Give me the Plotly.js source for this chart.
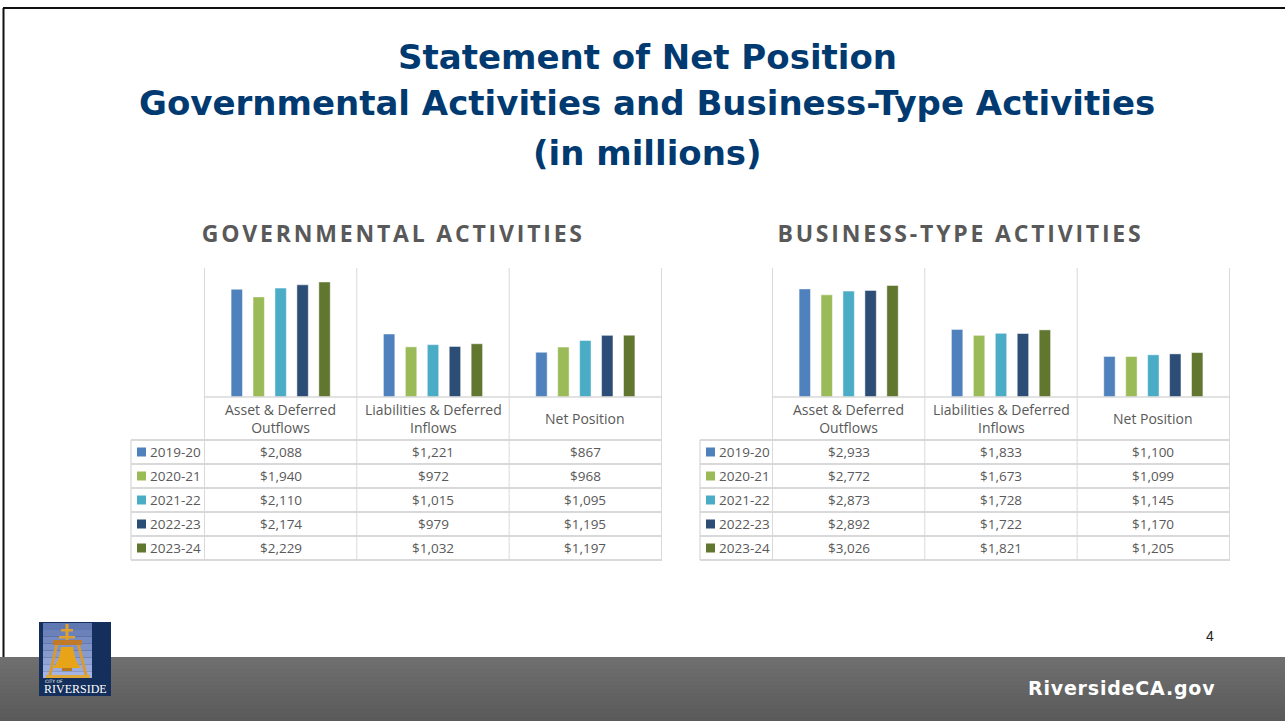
<!DOCTYPE html>
<html>
<head>
<meta charset="utf-8">
<script src="https://cdn.plot.ly/plotly-3.0.1.min.js"></script>
<style>
html,body{margin:0;padding:0;background:#fff;}
#chart{width:1285px;height:721px;}
</style>
</head>
<body>
<div id="chart"></div>
<script>
// ---------- DATA ----------
const categories = ["Asset & Deferred Outflows", "Liabilities & Deferred Inflows", "Net Position"];
const categoryLabels = ["Asset & Deferred<br>Outflows", "Liabilities & Deferred<br>Inflows", "Net Position"];
const years = ["2019-20", "2020-21", "2021-22", "2022-23", "2023-24"];
const yearColors = ["#4f81bd", "#9bbb59", "#4bacc6", "#2c4d75", "#61762f"];

const gov2019 = [2088, 1221, 867];
const gov2020 = [1940, 972, 968];
const gov2021 = [2110, 1015, 1095];
const gov2022 = [2174, 979, 1195];
const gov2023 = [2229, 1032, 1197];

const bus2019 = [2933, 1833, 1100];
const bus2020 = [2772, 1673, 1099];
const bus2021 = [2873, 1728, 1145];
const bus2022 = [2892, 1722, 1170];
const bus2023 = [3026, 1821, 1205];

const govSeries = [gov2019, gov2020, gov2021, gov2022, gov2023];
const busSeries = [bus2019, bus2020, bus2021, bus2022, bus2023];

const mainTitle = ["Statement of Net Position", "Governmental Activities and Business-Type Activities", "(in millions)"];
const panelTitles = ["GOVERNMENTAL ACTIVITIES", "BUSINESS-TYPE ACTIVITIES"];
const footerText = "RiversideCA.gov";

// ---------- LAYOUT HELPERS ----------
const W = 1285, H = 721;
const px = x => x / W;
const py = y => 1 - y / H;
const fmt = v => "$" + v.toLocaleString("en-US");
const gridColor = "#d9d9d9";
const textGray = "#595959";

const panels = [
  {series: govSeries, xa: "x", ya: "y", left: 204, right: 662, legendLeft: 131, range: [0, 2500], title: panelTitles[0], titleX: 393},
  {series: busSeries, xa: "x2", ya: "y2", left: 772, right: 1230, legendLeft: 700, range: [0, 3500], title: panelTitles[1], titleX: 960}
];
const plotTop = 268, plotBottom = 397, headerBottom = 440, rowH = 24;
const tableBottom = headerBottom + rowH * years.length;

const traces = [];
const shapes = [];
const annotations = [];

panels.forEach((p, pi) => {
  p.series.forEach((vals, si) => {
    traces.push({
      type: "bar", x: categories, y: vals, name: years[si],
      xaxis: p.xa, yaxis: p.ya,
      marker: {color: yearColors[si], line: {color: "rgba(255,255,255,0.6)", width: 0.8}},
      hoverinfo: "x+y+name", showlegend: false
    });
  });
  const xr = p.xa;
  for (let b = 0; b <= categories.length; b++) {
    shapes.push({type: "line", xref: xr, yref: "paper", x0: b - 0.5, x1: b - 0.5,
      y0: py(plotTop), y1: py(tableBottom), line: {color: gridColor, width: 1}});
  }
  shapes.push({type: "line", xref: "paper", yref: "paper", x0: px(p.left), x1: px(p.right),
    y0: py(plotBottom), y1: py(plotBottom), line: {color: gridColor, width: 1.3}});
  for (let r = 0; r <= years.length; r++) {
    const y = headerBottom + r * rowH;
    shapes.push({type: "line", xref: "paper", yref: "paper", x0: px(p.legendLeft), x1: px(p.right),
      y0: py(y), y1: py(y), line: {color: gridColor, width: 1.8}});
  }
  shapes.push({type: "line", xref: "paper", yref: "paper", x0: px(p.legendLeft), x1: px(p.legendLeft),
    y0: py(headerBottom), y1: py(tableBottom), line: {color: gridColor, width: 1.3}});
  categories.forEach((c, ci) => {
    annotations.push({xref: xr, yref: "paper", x: c, y: py((plotBottom + headerBottom) / 2),
      text: categoryLabels[ci], showarrow: false, xanchor: "center", yanchor: "middle",
      font: {family: "Open Sans", size: 14, color: textGray}});
  });
  years.forEach((yr, si) => {
    const yc = headerBottom + si * rowH + rowH / 2;
    shapes.push({type: "rect", xref: "paper", yref: "paper",
      x0: px(p.legendLeft + 6), x1: px(p.legendLeft + 15), y0: py(yc - 4.5), y1: py(yc + 4.5),
      fillcolor: yearColors[si], line: {width: 0}});
    annotations.push({xref: "paper", yref: "paper", x: px(p.legendLeft + 17), y: py(yc),
      text: yr, showarrow: false, xanchor: "left", yanchor: "middle",
      font: {family: "Open Sans", size: 13.5, color: textGray}});
    categories.forEach((c, ci) => {
      annotations.push({xref: xr, yref: "paper", x: c, y: py(yc),
        text: fmt(p.series[si][ci]), showarrow: false, xanchor: "center", yanchor: "middle",
        font: {family: "Open Sans", size: 13.5, color: textGray}});
    });
  });
  annotations.push({xref: "paper", yref: "paper", x: px(p.titleX), y: py(233),
    text: "<b>" + p.title + "</b>", showarrow: false, xanchor: "center", yanchor: "middle",
    font: {family: "Open Sans", size: 23, color: textGray}});
});

// main title
const titleYs = [57, 103, 153];
mainTitle.forEach((t, i) => {
  annotations.push({xref: "paper", yref: "paper", x: px(647), y: py(titleYs[i]),
    text: "<b>" + t + "</b>", showarrow: false, xanchor: "center", yanchor: "middle",
    font: {family: "DejaVu Sans", size: 34, color: "#003a70"}});
});

// slide border (top + left)
shapes.push({type: "line", xref: "paper", yref: "paper", x0: px(3), x1: 1, y0: py(8), y1: py(8), line: {color: "#111", width: 2}});
shapes.push({type: "line", xref: "paper", yref: "paper", x0: px(3.5), x1: px(3.5), y0: py(8), y1: py(657), line: {color: "#111", width: 2}});

// footer band (stacked strips to approximate gradient)
const bandTop = 657, strips = 16;
for (let i = 0; i < strips; i++) {
  const t = i / (strips - 1);
  const c = Math.round(111 - t * 21);
  shapes.push({type: "rect", xref: "paper", yref: "paper", x0: 0, x1: 1,
    y0: py(bandTop + (i + 1) * (H - bandTop) / strips), y1: py(bandTop + i * (H - bandTop) / strips),
    fillcolor: `rgb(${c},${c},${c})`, line: {width: 0}, layer: "below"});
}
annotations.push({xref: "paper", yref: "paper", x: px(1122), y: py(688),
  text: "<b>" + footerText + "</b>", showarrow: false, xanchor: "center", yanchor: "middle",
  font: {family: "DejaVu Sans", size: 19, color: "#ffffff"}});
annotations.push({xref: "paper", yref: "paper", x: px(1210), y: py(636),
  text: "4", showarrow: false, xanchor: "center", yanchor: "middle",
  font: {family: "Liberation Sans", size: 14, color: "#222"}});

// logo
const R = (x0, y0, x1, y1, color) => shapes.push({type: "rect", xref: "paper", yref: "paper",
  x0: px(x0), x1: px(x1), y0: py(y1), y1: py(y0), fillcolor: color, line: {width: 0}});
const P = (pts, color) => shapes.push({type: "path", xref: "paper", yref: "paper",
  path: pts.map((q, i) => (i ? "L " : "M ") + px(q[0]) + " " + py(q[1])).join(" ") + " Z",
  fillcolor: color, line: {width: 0}});
R(39, 622, 111, 696, "#142f5c");
const skySteps = 8;
for (let i = 0; i < skySteps; i++) {
  const t = i / (skySteps - 1);
  const r = Math.round(96 + t * 70), g = Math.round(120 + t * 62), b = Math.round(178 + t * 50);
  R(43, 623 + i * 55 / skySteps, 92, 623 + (i + 1) * 55 / skySteps, `rgb(${r},${g},${b})`);
}
R(65.5, 624, 68.5, 642, "#e0a030");
R(61, 629, 73, 631.5, "#e0a030");
R(59, 636, 75, 638.5, "#e0a030");
R(53, 640, 82, 645, "#c07a28");
P([[55, 645], [58, 645], [51, 677], [48, 677]], "#d99a30");
P([[77, 645], [80, 645], [88, 677], [85, 677]], "#d99a30");
R(46, 675, 90, 678, "#e0a838");
shapes.push({type: "path", xref: "paper", yref: "paper",
  path: `M ${px(61)} ${py(647)} L ${px(73)} ${py(647)} Q ${px(75)} ${py(662)} ${px(81)} ${py(668)} L ${px(53)} ${py(668)} Q ${px(59)} ${py(662)} ${px(61)} ${py(647)} Z`,
  fillcolor: "#e8a418", line: {width: 0}});
R(62, 668, 72, 671, "#b8781c");
annotations.push({xref: "paper", yref: "paper", x: px(43), y: py(681.5), text: "CITY OF",
  showarrow: false, xanchor: "left", yanchor: "middle", font: {family: "DejaVu Sans", size: 4.5, color: "#fff"}});
annotations.push({xref: "paper", yref: "paper", x: px(75.5), y: py(689), text: "RIVERSIDE",
  showarrow: false, xanchor: "center", yanchor: "middle", font: {family: "Liberation Serif", size: 12, color: "#fff"}});

const axisCommon = {showgrid: false, zeroline: false, showline: false, showticklabels: false, ticks: "", fixedrange: true};
const layout = {
  width: W, height: H,
  margin: {l: 0, r: 0, t: 0, b: 0},
  paper_bgcolor: "#ffffff", plot_bgcolor: "rgba(0,0,0,0)",
  barmode: "group", bargap: 0.28, bargroupgap: 0.48,
  showlegend: false,
  xaxis: Object.assign({}, axisCommon, {domain: [px(204), px(662)], anchor: "y", type: "category"}),
  yaxis: Object.assign({}, axisCommon, {domain: [py(plotBottom), py(plotTop)], range: panels[0].range, anchor: "x"}),
  xaxis2: Object.assign({}, axisCommon, {domain: [px(772), px(1230)], anchor: "y2", type: "category"}),
  yaxis2: Object.assign({}, axisCommon, {domain: [py(plotBottom), py(plotTop)], range: panels[1].range, anchor: "x2"}),
  shapes: shapes,
  annotations: annotations
};
Plotly.newPlot("chart", traces, layout, {displayModeBar: false, staticPlot: true}).then(gd => {
  document.querySelectorAll(".annotation-text").forEach(el => {
    if (panelTitles.indexOf(el.textContent) >= 0) el.style.letterSpacing = "2.8px";
    if (el.textContent === footerText) el.style.letterSpacing = "0.8px";
  });
});
</script>
</body>
</html>
